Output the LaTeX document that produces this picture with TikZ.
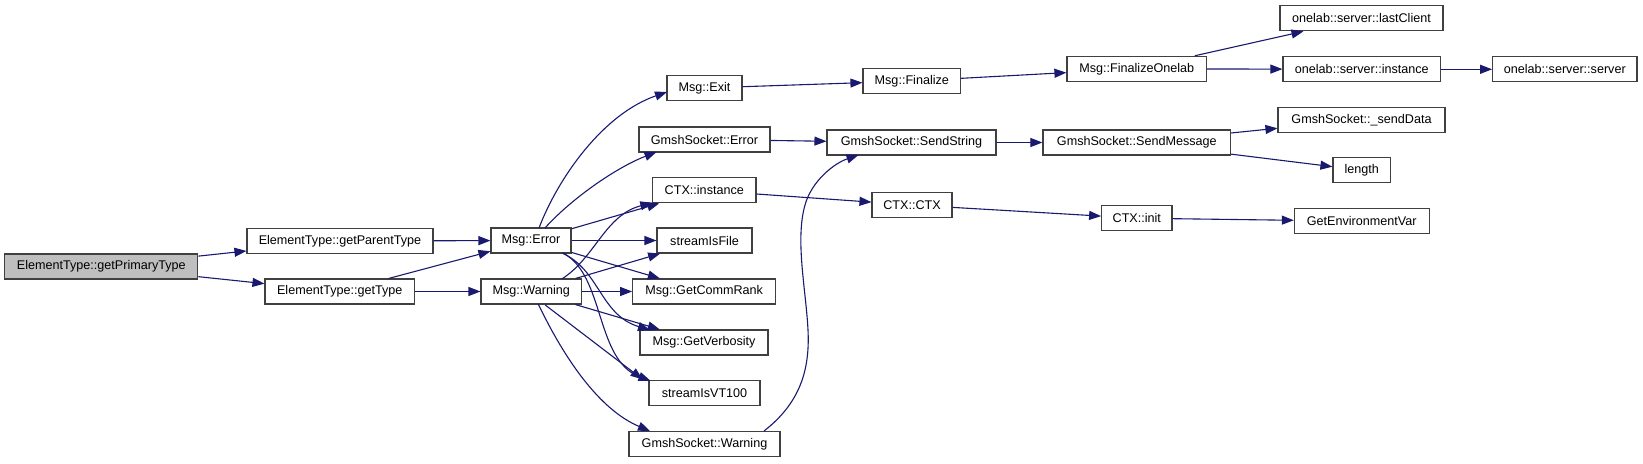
\documentclass[tikz,border=0pt]{standalone}
\usepackage{fontspec}
\setmainfont{Liberation Sans}
\usetikzlibrary{arrows.meta,calc}
\definecolor{edgeblue}{HTML}{191970}
\definecolor{boxborder}{HTML}{404040}
\definecolor{rootfill}{HTML}{BFBFBF}
\tikzset{
  box/.style={draw=boxborder, line width=1.1pt, fill=white, inner sep=0pt,
    minimum height=25pt, font=\fontsize{12.6}{14}\selectfont},
  rootbox/.style={box, fill=rootfill},
  arr/.style={draw=edgeblue, line width=1.1pt, -{Triangle[length=12pt,width=9pt]}},
}
\begin{document}
\begin{tikzpicture}[x=1pt,y=-1pt]
\useasboundingbox[fill=white] (0,0) rectangle (1643,463);
% column 0
\node[rootbox, minimum width=193pt] (prim) at (101.3,266.5) {ElementType::getPrimaryType};
% column 1
\node[box, minimum width=186pt] (parent) at (340,241) {ElementType::getParentType};
\node[box, minimum width=149.5pt] (gettype) at (339.75,291.5) {ElementType::getType};
% column 2
\node[box, minimum width=80pt] (err) at (531,240.5) {Msg::Error};
\node[box, minimum width=100.5pt] (warn) at (531.25,291.5) {Msg::Warning};
% column 3
\node[box, minimum width=75pt] (exit) at (704.5,88) {Msg::Exit};
\node[box, minimum width=131pt] (gserr) at (704.5,139.5) {GmshSocket::Error};
\node[box, minimum width=103.3pt] (ctxinst) at (704.3,190.3) {CTX::instance};
\node[box, minimum width=95pt] (sif) at (704.5,240.5) {streamIsFile};
\node[box, minimum width=143pt] (comm) at (704.2,291.5) {Msg::GetCommRank};
\node[box, minimum width=128pt] (verb) at (704,342.5) {Msg::GetVerbosity};
\node[box, minimum width=111pt] (vt100) at (704.5,393.3) {streamIsVT100};
\node[box, minimum width=151pt] (gswarn) at (704.5,443.8) {GmshSocket::Warning};
% column 4
\node[box, minimum width=97.7pt] (fin) at (911.8,81) {Msg::Finalize};
\node[box, minimum width=169pt] (sendstr) at (911.5,142.5) {GmshSocket::SendString};
\node[box, minimum width=80pt] (ctxctx) at (912,205) {CTX::CTX};
% column 5
\node[box, minimum width=139.7pt] (fonelab) at (1136.8,68.8) {Msg::FinalizeOnelab};
\node[box, minimum width=187.7pt] (sendmsg) at (1136.8,142.5) {GmshSocket::SendMessage};
\node[box, minimum width=70.3pt] (ctxinit) at (1136.8,218.2) {CTX::init};
% column 6
\node[box, minimum width=163pt] (lastc) at (1361.5,18.3) {onelab::server::lastClient};
\node[box, minimum width=157.7pt] (osinst) at (1361.8,69.3) {onelab::server::instance};
\node[box, minimum width=167pt] (senddata) at (1361.5,119.8) {GmshSocket::\_sendData};
\node[box, minimum width=57.7pt] (length) at (1361.8,170.3) {length};
\node[box, minimum width=134.7pt] (getenv) at (1361.7,221.2) {GetEnvironmentVar};
% column 7
\node[box, minimum width=144.3pt] (osserver) at (1564.8,69.3) {onelab::server::server};

% straight edges
\draw[arr] (prim) -- (parent);
\draw[arr] (prim) -- (gettype);
\draw[arr] (parent) -- (err);
\draw[arr] (gettype) -- (err);
\draw[arr] (gettype) -- (warn);
\draw[arr] (err) -- (ctxinst);
\draw[arr] (err) -- (sif);
\draw[arr] (err) -- (comm);
\draw[arr] (warn) -- (sif);
\draw[arr] (warn) -- (comm);
\draw[arr] (warn) -- (verb);
\draw[arr] ($(warn.center)+(14,13.5)$) -- ($(vt100.center)+(-62,-14)$);
\draw[arr] (exit) -- (fin);
\draw[arr] (gserr) -- (sendstr);
\draw[arr] (ctxinst) -- (ctxctx);
\draw[arr] (fin) -- (fonelab);
\draw[arr] (sendstr) -- (sendmsg);
\draw[arr] (ctxctx) -- (ctxinit);
\draw[arr] (fonelab) -- (lastc);
\draw[arr] (fonelab) -- (osinst);
\draw[arr] (osinst) -- (osserver);
\draw[arr] (sendmsg) -- (senddata);
\draw[arr] (sendmsg) -- (length);
\draw[arr] (ctxinit) -- (getenv);

% curved edges
\draw[arr] ($(err.center)+(8,-12.5)$) .. controls (558,178) and (603,114) .. ($(exit.center)+(-37.5,4)$);
\draw[arr] ($(err.center)+(14,-12.5)$) .. controls (570,200) and (615,168) .. ($(gserr.center)+(-48,12.5)$);
\draw[arr] ($(warn.center)+(30.5,-12.5)$) .. controls (595,258) and (605,215) .. ($(ctxinst.center)+(-52,12.5)$);
\draw[arr] ($(err.center)+(31,12.5)$) .. controls (600,270) and (600,315) .. ($(verb.center)+(-54,-12.5)$);
\draw[arr] ($(err.center)+(32,12.5)$) .. controls (605,275) and (595,360) .. ($(vt100.center)+(-54,-12.5)$);
\draw[arr] ($(warn.center)+(7,12.5)$) .. controls (565,360) and (600,410) .. ($(gswarn.center)+(-54.5,-12.8)$);
\draw[arr] ($(gswarn.center)+(59.5,-12.8)$) .. controls (800,403) and (810,370) .. (808,330)
  .. controls (806,290) and (795,240) .. (805,205)
  .. controls (812,180) and (835,163) .. ($(sendstr.center)+(-53,12.5)$);
\end{tikzpicture}
\end{document}
